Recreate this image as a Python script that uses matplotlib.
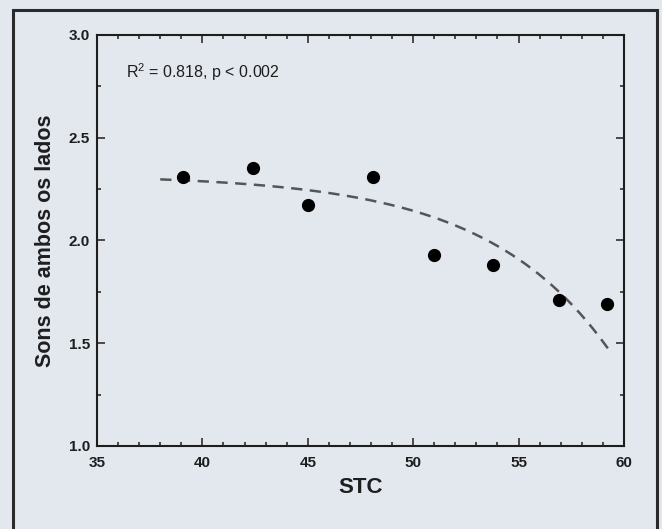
import numpy as np
import matplotlib
matplotlib.use("Agg")
import matplotlib.pyplot as plt
from matplotlib.patches import Rectangle
from matplotlib.ticker import MultipleLocator, FormatStrFormatter

# STC vs. sounds heard from both sides
stc = [39.1, 42.4, 45.0, 48.1, 51.0, 53.8, 56.9, 59.2]
ambos = [2.31, 2.35, 2.17, 2.31, 1.93, 1.88, 1.71, 1.69]

# exponential trend: y = y0 - a * exp(b * (x - x_ref))
fit_y0 = 2.32
fit_a = 0.869
fit_b = 0.17
fit_xref = 59.4
fit_range = (38.0, 59.4)

stats_text = "R$^2$ = 0.818, p < 0.002"

bg = "#e3e8ef"
ink = "#1e1e1e"
plt.rcParams["font.family"] = ["Liberation Sans", "DejaVu Sans"]
plt.rcParams["mathtext.fontset"] = "custom"
plt.rcParams["mathtext.rm"] = "Liberation Sans"

fig = plt.figure(figsize=(6.62, 5.29), dpi=100, facecolor=bg)
ax = fig.add_axes([0.1465, 0.157, 0.796, 0.777])
ax.set_facecolor(bg)

# outer frame around the figure panel
fig.patches.append(
    Rectangle((13 / 662, -0.05), 644 / 662, 1.05 - 10 / 529,
              transform=fig.transFigure, fill=False,
              edgecolor="#2a2a2a", linewidth=2.2)
)

xs = np.linspace(fit_range[0], fit_range[1], 200)
ys = fit_y0 - fit_a * np.exp(fit_b * (xs - fit_xref))
ax.plot(xs, ys, linestyle=(0, (4.5, 3)), color="#555555", linewidth=1.8, zorder=2)

ax.plot(stc, ambos, "o", color="black", markersize=8.5, zorder=3)

ax.set_xlim(35, 60)
ax.set_ylim(1.0, 3.0)
ax.xaxis.set_major_locator(MultipleLocator(5))
ax.xaxis.set_minor_locator(MultipleLocator(1))
ax.yaxis.set_major_locator(MultipleLocator(0.5))
ax.yaxis.set_minor_locator(MultipleLocator(0.25))
ax.yaxis.set_major_formatter(FormatStrFormatter("%.1f"))

ax.tick_params(which="both", direction="in", top=True, right=True,
               color=ink, width=1.1)
ax.tick_params(which="major", length=6, labelsize=11)
ax.tick_params(axis="x", which="major", pad=7)
ax.tick_params(axis="y", which="major", pad=5)
ax.tick_params(which="minor", length=3)
for lbl in ax.get_xticklabels() + ax.get_yticklabels():
    lbl.set_fontweight("bold")
    lbl.set_color(ink)
for sp in ax.spines.values():
    sp.set_linewidth(1.5)
    sp.set_color(ink)

ax.set_xlabel("STC", fontsize=16, fontweight="bold", color=ink, labelpad=5)
ax.set_ylabel("Sons de ambos os lados", fontsize=15.5, fontweight="bold",
              color=ink, labelpad=9)

ax.text(0.055, 0.91, stats_text, transform=ax.transAxes,
        fontsize=11.5, va="center", ha="left", color=ink)

fig.savefig("out.png", dpi=100, facecolor=bg)
